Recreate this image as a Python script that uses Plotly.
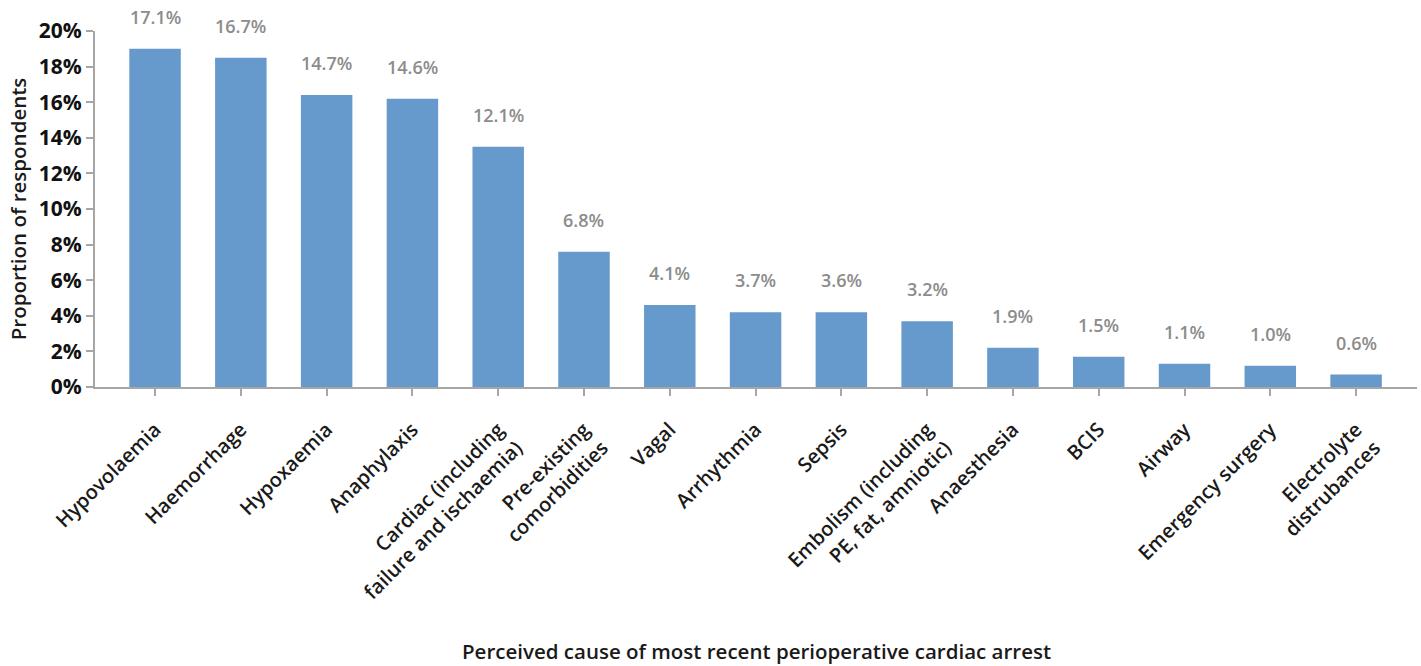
import plotly.graph_objects as go

categories = [
    "Hypovolaemia", "Haemorrhage", "Hypoxaemia", "Anaphylaxis",
    "Cardiac (including<br>failure and ischaemia)", "Pre-existing<br>comorbidities",
    "Vagal", "Arrhythmia", "Sepsis", "Embolism (including<br>PE, fat, amniotic)",
    "Anaesthesia", "BCIS", "Airway", "Emergency surgery", "Electrolyte<br>distrubances",
]
bar_values = [19.0, 18.5, 16.4, 16.2, 13.5, 7.6, 4.6, 4.2, 4.2, 3.7, 2.2, 1.7, 1.3, 1.2, 0.7]
value_labels = ["17.1%", "16.7%", "14.7%", "14.6%", "12.1%", "6.8%", "4.1%", "3.7%",
                "3.6%", "3.2%", "1.9%", "1.5%", "1.1%", "1.0%", "0.6%"]
y_ticks = [0, 2, 4, 6, 8, 10, 12, 14, 16, 18, 20]
y_tick_labels = [f"{v}%" for v in y_ticks]

FONT = "Open Sans"
x_idx = list(range(len(categories)))

fig = go.Figure()
fig.add_trace(go.Bar(
    x=x_idx, y=bar_values, width=0.6,
    marker=dict(color="#6699cc", line=dict(width=0)),
    hoverinfo="skip",
))

for i, (v, lab) in enumerate(zip(bar_values, value_labels)):
    fig.add_annotation(
        x=i, y=v, text=lab, showarrow=False, yanchor="bottom", yshift=18,
        font=dict(family=FONT, size=18, color="#8c8c8c", weight=600),
    )

fig.add_annotation(
    xref="paper", yref="paper", x=-0.058, y=0.5, text="Proportion of respondents",
    textangle=-90, showarrow=False, xanchor="center", yanchor="middle",
    font=dict(family=FONT, size=20.5, color="#1a1a1a", weight=600),
)
fig.add_annotation(
    xref="paper", yref="paper", x=0.5, y=-0.742,
    text="Perceived cause of most recent perioperative cardiac arrest",
    showarrow=False, xanchor="center", yanchor="middle",
    font=dict(family=FONT, size=20.5, color="#1a1a1a", weight=600),
)

fig.update_layout(
    width=1421, height=666,
    margin=dict(l=95, r=4, t=31, b=279),
    plot_bgcolor="white", paper_bgcolor="white",
    showlegend=False, bargap=0.4,
    font=dict(family=FONT),
)
fig.update_xaxes(
    range=[-0.7, 14.71], tickmode="array", tickvals=x_idx, ticktext=categories,
    tickangle=-45, showline=True, linecolor="#a6a6a6", linewidth=2,
    ticks="outside", ticklen=7, tickcolor="#a6a6a6", tickwidth=2,
    ticklabelstandoff=14,
    tickfont=dict(family=FONT, size=20, color="#1a1a1a", weight=600),
    showgrid=False, zeroline=False,
)
fig.update_yaxes(
    range=[0, 20], tickmode="array", tickvals=y_ticks, ticktext=y_tick_labels,
    showline=True, linecolor="#a6a6a6", linewidth=2,
    ticks="outside", ticklen=7, tickcolor="#a6a6a6", tickwidth=2,
    tickfont=dict(family=FONT, size=21, color="#111111", weight="bold"),
    showgrid=False, zeroline=False,
)

fig.write_html(
    "out.html",
    config={"displayModeBar": False},
    post_script="document.body.style.margin='0';document.body.style.padding='0';",
)
